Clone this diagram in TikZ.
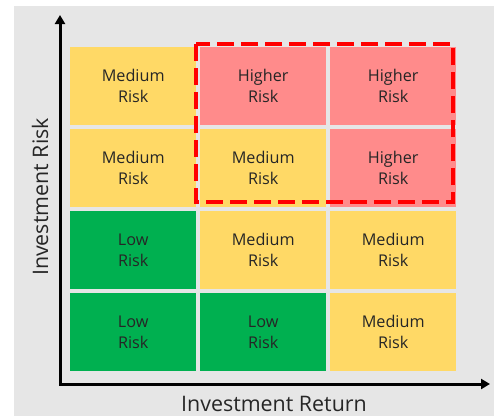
\documentclass[tikz,border=0pt]{standalone}
\usepackage{fontspec}
\setmainfont{Open Sans}
\usetikzlibrary{arrows.meta}
\definecolor{bgGrey}{HTML}{E6E6E6}
\definecolor{medY}{HTML}{FFD966}
\definecolor{hiR}{HTML}{FF8B8B}
\definecolor{lowG}{HTML}{00B050}
\definecolor{txt}{HTML}{262626}
\definecolor{redDash}{HTML}{FF0000}
\begin{document}
\begin{tikzpicture}[x=1pt,y=-1pt,
  cell/.style={minimum width=126pt, minimum height=78pt, inner sep=0pt,
    align=center, text=txt, font=\fontsize{16.2}{20.7}\selectfont, anchor=north west},
  med/.style={cell, fill=medY},
  hi/.style={cell, fill=hiR},
  low/.style={cell, fill=lowG},
  axis/.style={line width=3pt, black, line cap=rect, -{Triangle[length=9pt,width=10pt]}},
  axlabel/.style={text=txt, font=\fontsize{21.4}{24}\selectfont, inner sep=0pt, anchor=base},
  zone/.style={draw=redDash, line width=4.5pt, dash pattern=on 17pt off 7pt}]
\useasboundingbox (0,0) rectangle (494,416);
\fill[bgGrey] (14,6) rectangle (494,416);
% row 1
\node[med] (c11) at (70,47)  {Medium\\Risk};
\node[hi]  (c12) at (200,47) {Higher\\Risk};
\node[hi]  (c13) at (330,47) {Higher\\Risk};
% row 2
\node[med] (c21) at (70,129)  {Medium\\Risk};
\node[med] (c22) at (200,129) {Medium\\Risk};
\node[hi]  (c23) at (330,129) {Higher\\Risk};
% row 3
\node[low] (c31) at (70,211)  {Low\\Risk};
\node[med] (c32) at (200,211) {Medium\\Risk};
\node[med] (c33) at (330,211) {Medium\\Risk};
% row 4
\node[low] (c41) at (70,293)  {Low\\Risk};
\node[low] (c42) at (200,293) {Low\\Risk};
\node[med] (c43) at (330,293) {Medium\\Risk};
% highlighted zone
\draw[zone] (196,44) rectangle (453,202);
% axes
\coordinate (o) at (60,384);
\coordinate (ytip) at (60,15);
\coordinate (xtip) at (490,384);
\draw[axis] (o) -- (ytip);
\draw[axis] (o) -- (xtip);
\node[axlabel] (xlab) at (274,411) {Investment Return};
\node[axlabel, rotate=90] (ylab) at (48,197) {Investment Risk};
\end{tikzpicture}
\end{document}
